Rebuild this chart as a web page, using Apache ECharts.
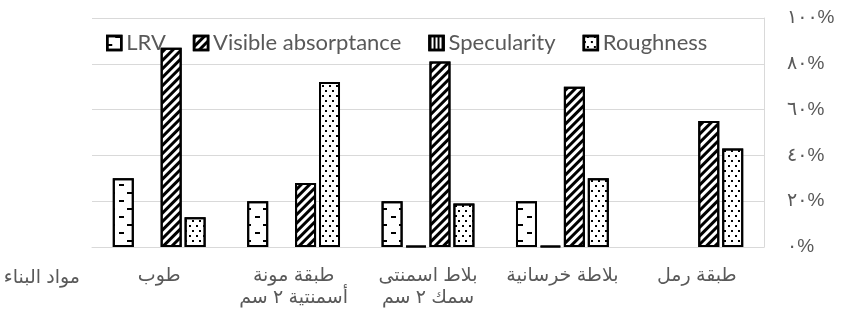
<!DOCTYPE html>
<html>
<head>
<meta charset="utf-8">
<script src="https://cdn.jsdelivr.net/npm/echarts@6/dist/echarts.min.js"></script>
<style>
  html, body { margin: 0; padding: 0; background: #fff; }
  #main { width: 841px; height: 316px; }
</style>
</head>
<body>
<div id="main"></div>
<script>
// البيانات
const categories = ['طوب', 'طبقة مونة\nأسمنتية ٢ سم', 'بلاط اسمنتى\nسمك ٢ سم', 'بلاطة خرسانية', 'طبقة رمل'];
const lrv = [30, 20, 20, 20, null];
const visibleAbsorptance = [87, 28, 81, 70, 55];
const specularity = [null, null, 0.5, 0.5, null];
const roughness = [13, 72, 19, 30, 43];
const legendOrder = ['LRV', 'Visible absorptance', 'Specularity', 'Roughness'];
const yTickLabels = ['٠%', '٢٠%', '٤٠%', '٦٠%', '٨٠%', '١٠٠%'];

const grey = '#595959';
const gridGrey = '#d9d9d9';
const latin = 'Lato, "Open Sans", sans-serif';
const arabic = 'Arial, "Liberation Sans", "DejaVu Sans", sans-serif';

var myChart = echarts.init(document.getElementById('main'));

function barSeries(name, data, decal) {
    return {
        name: name,
        type: 'bar',
        data: data,
        barWidth: 21,
        barGap: '14%',
        itemStyle: {
            color: '#fff',
            borderColor: '#000',
            borderWidth: 2,
            decal: decal
        }
    };
}

var option = {
    animation: false,
    legend: {
        data: legendOrder,
        icon: 'rect',
        left: 101,
        top: 27,
        itemWidth: 14,
        itemHeight: 14,
        itemGap: 27,
        itemStyle: { borderWidth: 2.5 },
        textStyle: { color: grey, fontSize: 22, fontFamily: latin }
    },
    grid: { left: 92, right: 77, top: 18, bottom: 69 },
    xAxis: {
        type: 'category',
        data: categories,
        axisLine: { lineStyle: { color: gridGrey } },
        axisTick: { show: false },
        axisLabel: {
            color: grey, fontSize: 19, fontFamily: arabic,
            margin: 18, lineHeight: 22, interval: 0
        }
    },
    yAxis: {
        type: 'value',
        position: 'right',
        min: 0,
        max: 100,
        interval: 20,
        axisLine: { show: true, lineStyle: { color: gridGrey } },
        splitLine: { lineStyle: { color: gridGrey } },
        axisLabel: {
            color: grey, fontSize: 19, fontFamily: arabic, margin: 23,
            formatter: function (v) { return yTickLabels[Math.round(v / 20)]; }
        }
    },
    graphic: [{
        type: 'text',
        right: 761,
        top: 268,
        style: { text: 'مواد البناء', fill: grey, font: '19px ' + arabic }
    }],
    // ترتيب الأعمدة داخل كل فئة: LRV ثم Specularity ثم Visible absorptance ثم Roughness
    series: [
        barSeries('LRV', lrv, {
            symbol: 'rect', symbolSize: 1, color: '#000',
            dashArrayX: [[5, 12], [0, 8, 5, 4]], dashArrayY: [2, 6]
        }),
        barSeries('Specularity', specularity, {
            symbol: 'rect', symbolSize: 1, color: '#000',
            dashArrayX: [2, 2], dashArrayY: [1, 0]
        }),
        barSeries('Visible absorptance', visibleAbsorptance, {
            symbol: 'rect', symbolSize: 1, color: '#000',
            dashArrayX: [1, 0], dashArrayY: [2.5, 2.5], rotation: -Math.PI / 4
        }),
        barSeries('Roughness', roughness, {
            symbol: 'rect', symbolSize: 1, color: '#000',
            dashArrayX: [[1.5, 4.5], [0, 3, 1.5, 1.5]], dashArrayY: [1.5, 3]
        })
    ]
};

myChart.setOption(option);
</script>
</body>
</html>
